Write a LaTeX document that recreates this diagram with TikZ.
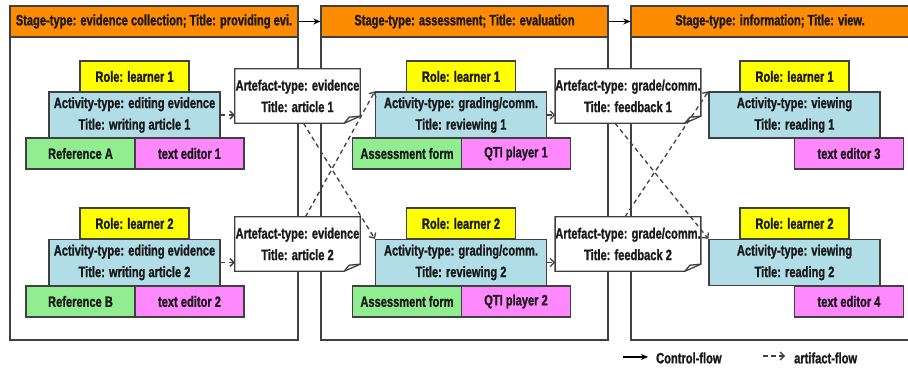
\documentclass[tikz,border=0pt]{standalone}
\usepackage{fontspec}
\newfontfamily\tf[FakeStretch=0.74,FakeBold=1.2]{Liberation Sans}
\usetikzlibrary{arrows.meta,calc}
\definecolor{hdrorange}{HTML}{FF8C00}
\definecolor{roleyellow}{HTML}{FFFF00}
\definecolor{actblue}{HTML}{B0DDE6}
\definecolor{refgreen}{HTML}{90EE90}
\definecolor{toolpink}{HTML}{FF88FF}
\definecolor{linec}{HTML}{404040}
\definecolor{txtc}{HTML}{1A1A1A}
\newcommand{\artoutline}[1]{%
  \draw[artline] (#1.north west) -- (#1.north east) -- ($(#1.south east)+(0,-7)$)
    -- ($(#1.south east)+(-16,0)$) -- (#1.south west) -- cycle;
  \draw[artline] ($(#1.south east)+(-16,0)$) -- ($(#1.south east)+(-11,-6)$) -- ($(#1.south east)+(0,-7)$);}
\tikzset{
  basefont/.style={font=\tf\bfseries\fontsize{15}{21.5}\selectfont, text=txtc},
  stagebox/.style={draw=linec, line width=1.3pt, fill=white, inner sep=0pt},
  hdrbox/.style={basefont, draw=linec, line width=1.3pt, fill=hdrorange, inner sep=0pt, minimum height=31pt},
  cell/.style={basefont, draw=linec, line width=1.3pt, inner sep=0pt, minimum height=31pt},
  rolebox/.style={cell, fill=roleyellow, minimum width=109pt},
  actbox/.style={cell, fill=actblue, minimum width=171pt, minimum height=46pt, align=center},
  refbox/.style={cell, fill=refgreen, minimum width=109pt},
  toolbox/.style={cell, fill=toolpink, minimum width=109pt},
  artbox/.style={basefont, fill=white, inner sep=0pt, minimum height=54pt, align=center},
  artline/.style={draw=linec, line width=1.3pt},
  ctrl/.style={draw=black, line width=1.2pt, -{Stealth[length=7pt,width=6pt]}},
  aflow/.style={draw=linec, line width=1.3pt, dash pattern=on 4.5pt off 3.5pt, -{Straight Barb[length=4pt,width=8pt]}},
  legend/.style={basefont, inner sep=0pt, anchor=west}
}
\begin{document}
\begin{tikzpicture}[x=1pt,y=-1pt]
\useasboundingbox (0,0) rectangle (908,369);
\clip (0,0) rectangle (908,369);
\fill[white] (0,0) rectangle (908,369);

% stages
\node[stagebox, minimum width=288pt, minimum height=334pt] (s1) at (154,173) {};
\node[stagebox, minimum width=287pt, minimum height=334pt] (s2) at (464.5,173) {};
\node[stagebox, minimum width=278pt, minimum height=334pt] (s3) at (770,173) {};
\node[hdrbox, minimum width=288pt] (h1) at (154,21.5) {Stage-type: evidence collection; Title: providing evi.};
\node[hdrbox, minimum width=287pt] (h2) at (464.5,21.5) {Stage-type: assessment; Title: evaluation};
\node[hdrbox, minimum width=278pt] (h3) at (770,21.5) {Stage-type: information; Title: view.};

% stage 1
\node[rolebox] (r11) at (134.5,76.5) {Role: learner 1};
\node[actbox] (a11) at (134.5,115) {Activity-type: editing evidence\\Title: writing article 1};
\node[refbox] (ref11) at (80.5,153.5) {Reference A};
\node[toolbox] (t11) at (189.5,153.5) {text editor 1};
\node[rolebox] (r12) at (134.5,223.5) {Role: learner 2};
\node[actbox] (a12) at (134.5,262.5) {Activity-type: editing evidence\\Title: writing article 2};
\node[refbox] (ref12) at (80.5,301.5) {Reference B};
\node[toolbox] (t12) at (189.5,301.5) {text editor 2};

% stage 2
\node[rolebox] (r21) at (461,76.5) {Role: learner 1};
\node[actbox] (a21) at (461,115) {Activity-type: grading/comm.\\Title: reviewing 1};
\node[refbox] (ref21) at (407,153.5) {Assessment form};
\node[toolbox] (t21) at (516,153.5) {QTI player 1};
\node[rolebox] (r22) at (461,223.5) {Role: learner 2};
\node[actbox] (a22) at (461,262.5) {Activity-type: grading/comm.\\Title: reviewing 2};
\node[refbox] (ref22) at (407,301.5) {Assessment form};
\node[toolbox] (t22) at (516,301.5) {QTI player 2};

% stage 3
\node[rolebox] (r31) at (794.5,76.5) {Role: learner 1};
\node[actbox] (a31) at (794.5,115) {Activity-type: viewing\\Title: reading 1};
\node[toolbox] (t31) at (849,153.5) {text editor 3};
\node[rolebox] (r32) at (794.5,223.5) {Role: learner 2};
\node[actbox] (a32) at (794.5,262.5) {Activity-type: viewing\\Title: reading 2};
\node[toolbox] (t32) at (849,301.5) {text editor 4};

% artefacts
\node[artbox, minimum width=125pt] (art1) at (297.5,96) {Artefact-type: evidence\\Title: article 1};
\node[artbox, minimum width=125pt] (art2) at (297.5,244) {Artefact-type: evidence\\Title: article 2};
\node[artbox, minimum width=132pt] (fb1) at (628,96) {Artefact-type: grade/comm.\\Title: feedback 1};
\node[artbox, minimum width=132pt] (fb2) at (628,244) {Artefact-type: grade/comm.\\Title: feedback 2};
\artoutline{art1}
\artoutline{art2}
\artoutline{fb1}
\artoutline{fb2}

% control flow
\draw[ctrl] (h1.east) -- (h2.west);
\draw[ctrl] (h2.east) -- (h3.west);

% artefact flow
\draw[aflow] (a11.east) -- (a11.east -| art1.west);
\draw[aflow] (a12.east) -- (a12.east -| art2.west);
\draw[aflow] ($(art1.south)+(6,0)$) -- (a22.north west);
\draw[aflow] ($(art2.north)+(8,0)$) -- (a21.north west);
\draw[aflow] (a21.east) -- (a21.east -| fb1.west);
\draw[aflow] (a22.east) -- (a22.east -| fb2.west);
\draw[aflow] ($(fb1.south)+(-13,0)$) -- (a32.north west);
\draw[aflow] ($(fb2.north)+(-3,0)$) -- (a31.north west);

% legend
\coordinate (lc1) at (623,357);
\coordinate (lc2) at (648,357);
\draw[ctrl] (lc1) -- (lc2);
\node[legend] (lct) at (656,358) {Control-flow};
\coordinate (la1) at (763,356);
\coordinate (la2) at (785,356);
\draw[aflow] (la1) -- (la2);
\node[legend] (lat) at (794,358) {artifact-flow};
\end{tikzpicture}
\end{document}
